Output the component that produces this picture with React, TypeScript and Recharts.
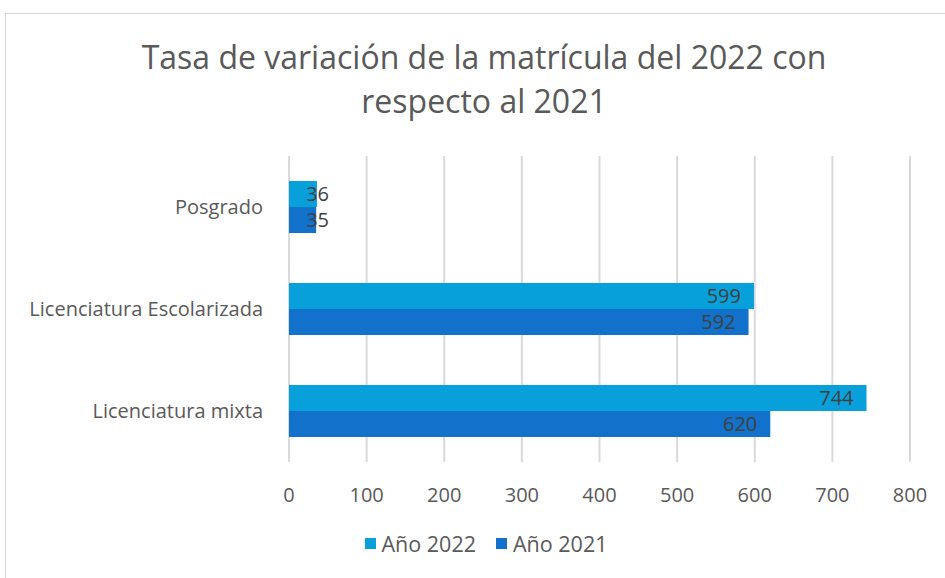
import React from 'react';
import { BarChart, Bar, XAxis, YAxis, CartesianGrid, Legend, LabelList } from 'recharts';

const categories = ['Posgrado', 'Licenciatura Escolarizada', 'Licenciatura mixta'];
const year2022 = [36, 599, 744];
const year2021 = [35, 592, 620];
const xTicks = [0, 100, 200, 300, 400, 500, 600, 700, 800];
const seriesNames = ['Año 2022', 'Año 2021'];
const seriesColors = ['#08A0DB', '#1271CA'];

const data = categories.map((name, i) => ({ name, y2022: year2022[i], y2021: year2021[i] }));

const FONT = '"Open Sans", "Noto Sans", sans-serif';
const GREY = '#595959';

// Excel-style "inside end" label: sits near the bar end, but never past the axis
const EndLabel = (props: any) => {
  const { x, y, width, height, value } = props;
  const tx = Math.max(x + width - 13, x + 40);
  return (
    <text x={tx} y={y + height / 2} dy={7} textAnchor="end" fill="#404040" fontSize={20} fontFamily={FONT}>
      {value}
    </text>
  );
};

// keep the legend in series order (recharts flips it in vertical layout)
const LegendContent = () => (
  <div style={{ display: 'flex', justifyContent: 'center', gap: 20, fontFamily: FONT, fontSize: 21.5, color: GREY }}>
    {seriesNames.map((n, i) => (
      <span key={n} style={{ display: 'flex', alignItems: 'center' }}>
        <span style={{ width: 11, height: 11, background: seriesColors[i], marginRight: 6, display: 'inline-block' }} />
        {n}
      </span>
    ))}
  </div>
);

const App: React.FC = () => {
  return (
    <div style={{ position: 'fixed', left: 0, top: 0, width: 945, height: 578, overflow: 'hidden', background: '#fff' }}>
      <div style={{ position: 'absolute', left: 5, top: 13, width: 958, height: 620, border: '1.5px solid #d9d9d9', boxSizing: 'border-box' }} />
      <div
        style={{
          position: 'absolute', left: 5, top: 35, width: 958, textAlign: 'center',
          fontFamily: FONT, fontSize: 32, lineHeight: '44px', color: GREY,
        }}
      >
        Tasa de variación de la matrícula del 2022 con
        <br />
        respecto al 2021
      </div>
      <div style={{ position: 'absolute', left: 0, top: 0 }}>
        <BarChart
          layout="vertical"
          width={945}
          height={578}
          data={data}
          margin={{ top: 156, right: 35, left: 0, bottom: 47 }}
          barSize={26}
          barGap={0}
        >
          <CartesianGrid horizontal={false} stroke="#d9d9d9" strokeWidth={2} />
          <XAxis
            type="number"
            domain={[0, 800]}
            ticks={xTicks}
            axisLine={false}
            tickLine={false}
            height={40}
            tickMargin={20}
            tick={{ fill: GREY, fontSize: 20, fontFamily: FONT }}
          />
          <YAxis
            type="category"
            dataKey="name"
            width={289}
            axisLine={false}
            tickLine={false}
            tickMargin={20}
            tick={{ fill: GREY, fontSize: 20, fontFamily: FONT }}
          />
          <Legend verticalAlign="bottom" content={LegendContent} wrapperStyle={{ top: 529, left: 62, width: 848 }} />
          <Bar dataKey="y2022" name={seriesNames[0]} fill={seriesColors[0]} isAnimationActive={false}>
            <LabelList dataKey="y2022" content={EndLabel} />
          </Bar>
          <Bar dataKey="y2021" name={seriesNames[1]} fill={seriesColors[1]} isAnimationActive={false}>
            <LabelList dataKey="y2021" content={EndLabel} />
          </Bar>
        </BarChart>
      </div>
    </div>
  );
};

export default App;
